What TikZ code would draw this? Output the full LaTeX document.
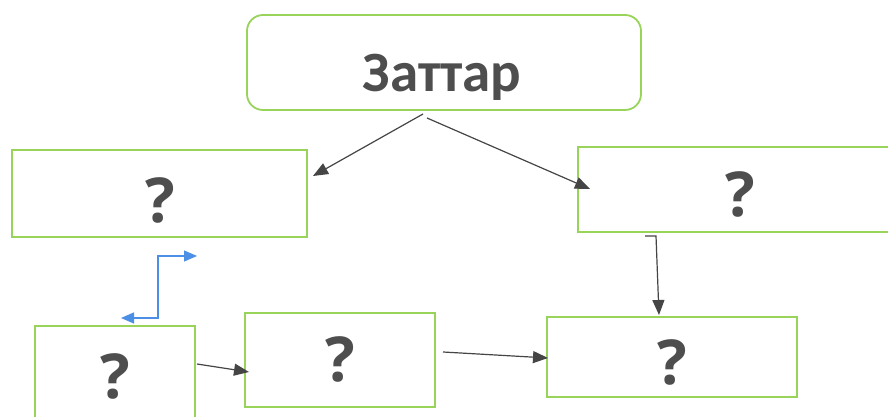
\documentclass[tikz,border=0pt]{standalone}
\usepackage{fontspec}
\setmainfont{Carlito}
\newfontfamily\qfont{Open Sans}
\usetikzlibrary{arrows.meta}
\definecolor{boxgreen}{HTML}{98D35A}
\definecolor{inkgray}{HTML}{4E4E4E}
\definecolor{arrowgray}{HTML}{454545}
\definecolor{linkblue}{HTML}{4C8FE6}
\tikzset{
  x=1pt, y=1pt,
  box/.style={draw=boxgreen, line width=1.8pt, fill=white},
  title/.style={font=\fontsize{57}{60}\selectfont\bfseries, text=inkgray, inner sep=0pt},
  qmark/.style={font=\qfont\fontsize{62}{66}\selectfont\bfseries, text=inkgray, inner sep=0pt, anchor=base},
  link/.style={draw=arrowgray, line width=1.2pt, -{Triangle[length=15pt,width=12pt]}},
  bluelink/.style={draw=linkblue, line width=1.3pt, {Triangle[length=13pt,width=11pt]}-{Triangle[length=13pt,width=11pt]}},
}
\begin{document}
\begin{tikzpicture}
\useasboundingbox (0,0) rectangle (888,417);
\clip (0,0) rectangle (888,417);
\fill[white] (0,0) rectangle (888,417);

% boxes and their labels
\draw[box, rounded corners=16pt] (247,307) rectangle (641,402);
\node[title, anchor=base] (top) at (442,325) {Заттар};

\draw[box] (12,180) rectangle (307,267);
\node[qmark] (q1) at (160,194) {?};

\draw[box] (578,185) rectangle (900,270);
\node[qmark] (q2) at (740,200) {?};

\draw[box] (35,-20) rectangle (195,91);
\node[qmark] (q3) at (115,18) {?};

\draw[box] (245,10) rectangle (435,104);
\node[qmark] (q4) at (340,35) {?};

\draw[box] (547,20) rectangle (797,100);
\node[qmark] (q5) at (672,32) {?};

% connector end points
\coordinate (s1) at (423,303);
\coordinate (e1) at (313,241);
\coordinate (s2) at (427,299);
\coordinate (e2) at (590,228);
\coordinate (s3) at (645,181);
\coordinate (m3) at (656,181);
\coordinate (e3) at (659,102);
\coordinate (b1) at (121,99);
\coordinate (b2) at (158,99);
\coordinate (b3) at (158,161);
\coordinate (b4) at (197,161);
\coordinate (s4) at (197,53);
\coordinate (e4) at (249,45);
\coordinate (s5) at (443,65);
\coordinate (e5) at (548,59);

% connectors
\draw[link] (s1) -- (e1);
\draw[link] (s2) -- (e2);
\draw[link] (s3) -- (m3) -- (e3);
\draw[bluelink] (b1) -- (b2) -- (b3) -- (b4);
\draw[link] (s4) -- (e4);
\draw[link] (s5) -- (e5);
\end{tikzpicture}
\end{document}
